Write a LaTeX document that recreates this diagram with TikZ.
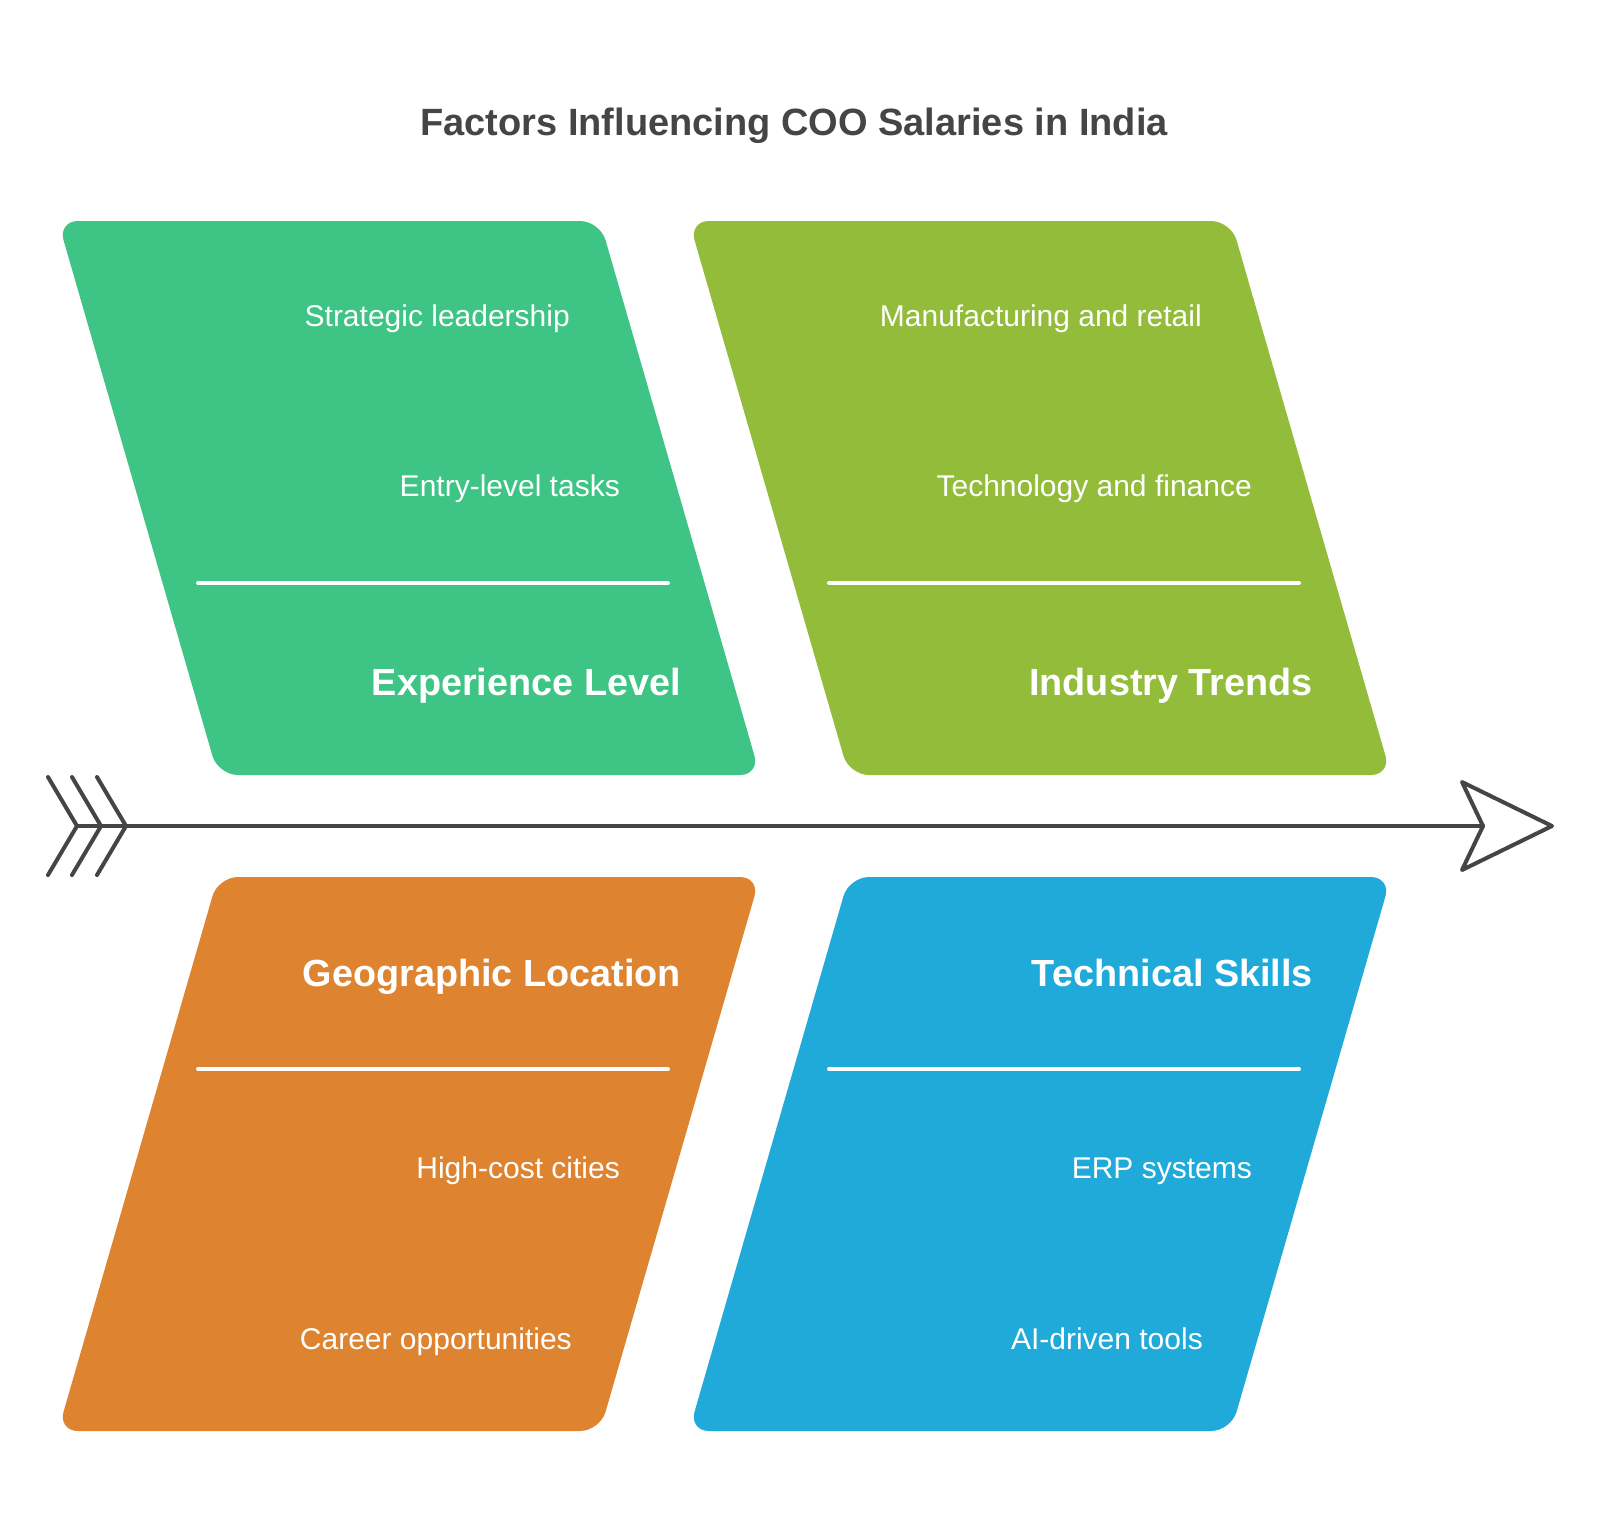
\documentclass[tikz,border=0pt]{standalone}
\usepackage{fontspec}
\setmainfont{Liberation Sans}
\definecolor{cgreen}{HTML}{3EC484}
\definecolor{colive}{HTML}{92BC3A}
\definecolor{corange}{HTML}{DE8430}
\definecolor{cblue}{HTML}{1FAAD9}
\definecolor{cdark}{HTML}{454545}
\begin{document}
\begin{tikzpicture}[x=1pt,y=-1pt,
  panel/.style={rounded corners=20pt},
  item/.style={anchor=base east,inner sep=0pt,text=white,font=\fontsize{30}{36}\selectfont},
  head/.style={anchor=base east,inner sep=0pt,text=white,font=\bfseries\fontsize{37.8}{45}\selectfont},
  sep/.style={draw=white,line width=4pt,line cap=round},
  axis/.style={draw=cdark,line width=4pt,line cap=round,line join=round}]
\useasboundingbox (0,0) rectangle (1600,1532);
\fill[white] (0,0) rectangle (1600,1532);
% title
\node[anchor=base,inner sep=0pt,text=cdark,font=\bfseries\fontsize{38}{46}\selectfont] (title) at (794,135) {Factors Influencing COO Salaries in India};
% panels
\fill[cgreen,panel] (329,221) -- (600,221) -- (760,775) -- (218,775) -- (58,221) -- cycle;
\fill[colive,panel] (960,221) -- (1231,221) -- (1391,775) -- (849,775) -- (689,221) -- cycle;
\fill[corange,panel] (489,877) -- (760,877) -- (600,1431) -- (58,1431) -- (218,877) -- cycle;
\fill[cblue,panel] (1120,877) -- (1391,877) -- (1231,1431) -- (689,1431) -- (849,877) -- cycle;
% separators
\coordinate (g1) at (198,583); \coordinate (g2) at (668,583);
\coordinate (o1) at (829,583); \coordinate (o2) at (1299,583);
\coordinate (r1) at (198,1069); \coordinate (r2) at (668,1069);
\coordinate (b1) at (829,1069); \coordinate (b2) at (1299,1069);
\draw[sep] (g1) -- (g2);
\draw[sep] (o1) -- (o2);
\draw[sep] (r1) -- (r2);
\draw[sep] (b1) -- (b2);
% texts
\node[item] (e1) at (570,326) {Strategic leadership};
\node[item] (e2) at (620,496) {Entry-level tasks};
\node[head] (eh) at (681,695) {Experience Level};
\node[item] (i1) at (1202,326) {Manufacturing and retail};
\node[item] (i2) at (1252,496) {Technology and finance};
\node[head] (ih) at (1313,695) {Industry Trends};
\node[head] (gh) at (681,986) {Geographic Location};
\node[item] (g1t) at (620,1178) {High-cost cities};
\node[item] (g2t) at (572,1349) {Career opportunities};
\node[head] (th) at (1313,986) {Technical Skills};
\node[item] (t1) at (1252,1178) {ERP systems};
\node[item] (t2) at (1203,1349) {AI-driven tools};
% axis
\coordinate (tail) at (77,826);
\coordinate (notch) at (1483,826);
\coordinate (tip) at (1552,826);
\coordinate (hu) at (1462,782);
\coordinate (hd) at (1462,870);
\draw[axis] (tail) -- (notch);
\draw[axis] (48,777) -- (tail) -- (48,875);
\draw[axis] (72,777) -- (101,826) -- (72,875);
\draw[axis] (97,777) -- (126,826) -- (97,875);
\draw[axis] (notch) -- (hu) -- (tip) -- (hd) -- cycle;
\end{tikzpicture}
\end{document}
